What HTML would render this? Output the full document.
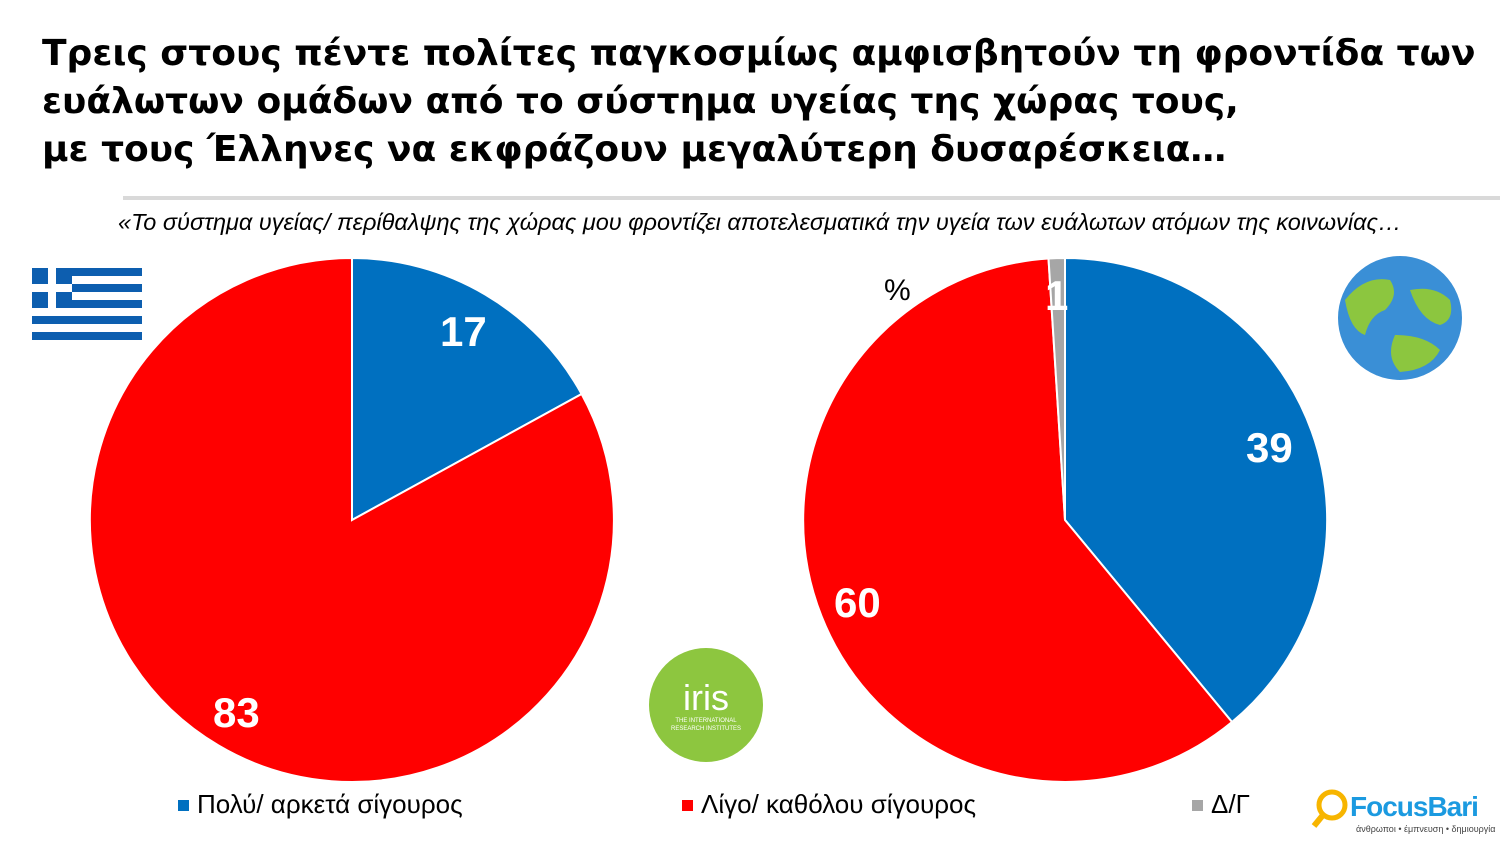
<!DOCTYPE html>
<html><head><meta charset="utf-8"><style>
body{margin:0;width:1500px;height:844px;background:#fff;overflow:hidden;position:relative;font-family:"Liberation Sans","DejaVu Sans",sans-serif}
.t{position:absolute;left:42px;top:30px;font-family:"DejaVu Sans",sans-serif;font-weight:bold;font-size:36px;line-height:48px;color:#000;white-space:nowrap;letter-spacing:0px}
.sub{position:absolute;left:118px;top:209px;font-style:italic;font-size:23.5px;color:#000;white-space:nowrap}
.leg{position:absolute;top:789px;font-size:26px;white-space:nowrap}
.sq{display:inline-block;width:11px;height:11px;margin-right:8px;vertical-align:2px}
</style></head><body>
<div class="t">Τρεις στους πέντε πολίτες παγκοσμίως αμφισβητούν τη φροντίδα των<br>ευάλωτων ομάδων από το σύστημα υγείας της χώρας τους,<br>με τους Έλληνες να εκφράζουν μεγαλύτερη δυσαρέσκεια…</div>
<div style="position:absolute;left:123px;top:196px;width:1377px;height:4px;background:#d9d9d9"></div>
<div class="sub">«Το σύστημα υγείας/ περίθαλψης της χώρας μου φροντίζει αποτελεσματικά την υγεία των ευάλωτων ατόμων της κοινωνίας…</div>
<svg width="1500" height="844" style="position:absolute;left:0;top:0">
<g>
<rect x="32" y="268" width="110" height="8" fill="#0d5eaf"/>
<rect x="32" y="284" width="110" height="8" fill="#0d5eaf"/>
<rect x="32" y="300" width="110" height="8" fill="#0d5eaf"/>
<rect x="32" y="316" width="110" height="8" fill="#0d5eaf"/>
<rect x="32" y="332" width="110" height="8" fill="#0d5eaf"/>
<rect x="32" y="268" width="40" height="40" fill="#0d5eaf"/>
<rect x="48" y="268" width="8" height="40" fill="#fff"/>
<rect x="32" y="284" width="40" height="8" fill="#fff"/>
</g>
<g stroke="#fff" stroke-width="2">
<path d="M352,520 L352,258 A262,262 0 0 1 581.6,394 Z" fill="#0070c0"/>
<path d="M352,520 L581.6,394 A262,262 0 1 1 352,258 Z" fill="#ff0000"/>
<path d="M1065,520 L1065,258 A262,262 0 0 1 1232,722 Z" fill="#0070c0"/>
<path d="M1065,520 L1232,722 A262,262 0 1 1 1048.5,258.5 Z" fill="#ff0000"/>
<path d="M1065,520 L1048.5,258.5 A262,262 0 0 1 1065,258 Z" fill="#a6a6a6"/>
</g>
<g font-family="Liberation Sans,sans-serif" font-weight="bold" font-size="42" fill="#fff">
<text x="440" y="346">17</text>
<text x="213" y="727">83</text>
<text x="1246" y="462">39</text>
<text x="834" y="617">60</text>
<text x="1045" y="310">1</text>
</g>
<text x="884" y="300" font-size="30" font-family="Liberation Sans,sans-serif">%</text>
<circle cx="1400" cy="318" r="62" fill="#3a8fd6"/>
<path d="M1345,300 q20,-25 45,-20 q10,15 -5,30 q-15,5 -20,25 q-15,-5 -20,-35Z M1410,290 q25,-5 40,10 q5,20 -10,25 q-20,-5 -30,-35Z M1395,335 q30,0 45,15 q-10,20 -40,22 q-15,-15 -5,-37Z" fill="#8cc63f"/>
<circle cx="706" cy="705" r="57" fill="#8dc63f"/>
<text x="706" y="710" text-anchor="middle" font-size="36" fill="#fff" font-family="Liberation Sans,sans-serif">iris</text>
<text x="706" y="722" text-anchor="middle" font-size="6" fill="#fff">THE INTERNATIONAL</text>
<text x="706" y="730" text-anchor="middle" font-size="6" fill="#fff">RESEARCH INSTITUTES</text>
<circle cx="1332" cy="805" r="13" fill="none" stroke="#f7b500" stroke-width="5"/>
<line x1="1323" y1="815" x2="1314" y2="826" stroke="#f7b500" stroke-width="6"/>
<text x="1350" y="816" font-size="28" font-weight="bold" fill="#1b9ae0" font-family="Liberation Sans,sans-serif" letter-spacing="-1">FocusBari</text>
<text x="1356" y="832" font-size="9" fill="#444">άνθρωποι • έμπνευση • δημιουργία</text>
</svg>
<div class="leg" style="left:178px"><span class="sq" style="background:#0070c0"></span>Πολύ/ αρκετά σίγουρος</div>
<div class="leg" style="left:682px"><span class="sq" style="background:#ff0000"></span>Λίγο/ καθόλου σίγουρος</div>
<div class="leg" style="left:1192px"><span class="sq" style="background:#a6a6a6"></span>Δ/Γ</div>
</body></html>
